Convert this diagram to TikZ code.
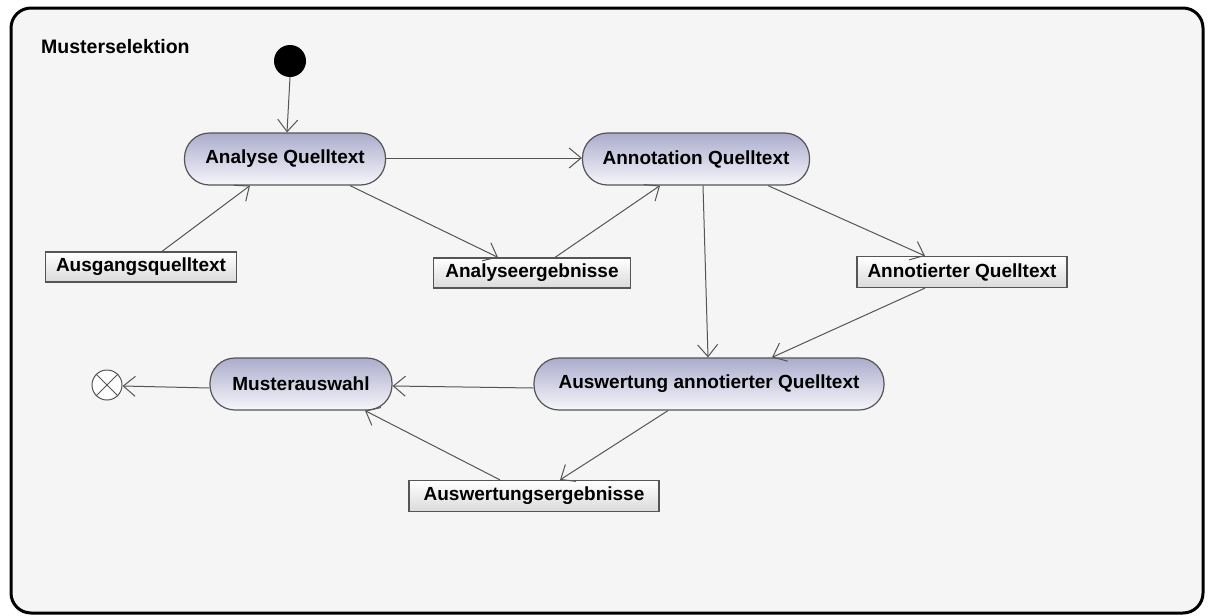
\documentclass[tikz,border=0pt]{standalone}
\usepackage{fontspec}
\setmainfont{Liberation Sans}
\usetikzlibrary{arrows.meta}
\definecolor{framebg}{RGB}{245,245,245}
\definecolor{actiontop}{RGB}{172,172,204}
\definecolor{actionbot}{RGB}{246,246,252}
\definecolor{objbot}{RGB}{218,218,218}
\definecolor{edgegray}{RGB}{85,85,85}
\tikzset{
  action/.style={draw=edgegray, line width=1.2pt, rounded corners=25pt,
    top color=actiontop, bottom color=actionbot, minimum height=52pt,
    inner sep=0pt, font=\fontsize{19}{22}\selectfont\bfseries},
  objbox/.style={draw=edgegray, line width=1.2pt, top color=white,
    bottom color=objbot, minimum height=30pt, inner sep=0pt,
    font=\fontsize{19}{22}\selectfont\bfseries},
  flow/.style={draw=edgegray, line width=1pt,
    -{Straight Barb[length=12pt,width=20pt,line width=1pt]}}
}
\begin{document}
\begin{tikzpicture}[x=1pt,y=-1pt]
\useasboundingbox (0,0) rectangle (1208,616);
% activity frame
\draw[line width=3pt, fill=framebg, rounded corners=20pt] (11,8) rectangle (1203,613);
\node[anchor=west, inner sep=0pt, font=\fontsize{19.5}{22}\selectfont\bfseries] (title) at (41,47) {Musterselektion};

% initial and final nodes
\node[circle, fill=black, minimum size=32pt, inner sep=0pt] (init) at (290,61) {};
\node[circle, draw=edgegray, fill=white, line width=1pt, minimum size=30pt, inner sep=0pt] (final) at (107,385) {};
\draw[edgegray, line width=1pt] (final.north west) -- (final.south east)
  (final.north east) -- (final.south west);

% actions
\node[action, minimum width=201pt] (analyse) at (285,159) {Analyse Quelltext};
\node[action, minimum width=227pt] (annot) at (696,159) {Annotation Quelltext};
\node[action, minimum width=350pt] (ausw) at (709,384) {Auswertung annotierter Quelltext};
\node[action, minimum width=182pt] (muster) at (301,384) {Musterauswahl};

% object nodes
\node[objbox, minimum width=191pt] (ausgang) at (141,267) {Ausgangsquelltext};
\node[objbox, minimum width=197pt] (aerg) at (532,273) {Analyseergebnisse};
\node[objbox, minimum width=210pt, minimum height=31pt] (aq) at (962,272) {Annotierter Quelltext};
\node[objbox, minimum width=250pt, minimum height=31pt] (awerg) at (534,496) {Auswertungsergebnisse};

% flows
\draw[flow] (init.south) -- ([xshift=2pt]analyse.north);
\draw[flow] ([xshift=21pt]ausgang.north) -- ([xshift=-35pt]analyse.south);
\draw[flow] ([yshift=1pt]analyse.east) -- ([yshift=1pt]annot.west);
\draw[flow] ([xshift=65pt]analyse.south) -- ([xshift=-34pt]aerg.north);
\draw[flow] ([xshift=23pt]aerg.north) -- ([xshift=-36pt]annot.south);
\draw[flow] ([xshift=7pt]annot.south) -- ([xshift=-1pt]ausw.north);
\draw[flow] ([xshift=72pt]annot.south) -- ([xshift=-37pt]aq.north);
\draw[flow] ([xshift=-37pt]aq.south) -- ([xshift=63pt]ausw.north);
\draw[flow] ([yshift=-4pt]ausw.west) -- ([yshift=-2pt]muster.east);
\draw[flow] ([xshift=-41pt]ausw.south) -- ([xshift=26pt]awerg.north);
\draw[flow] ([xshift=-34pt]awerg.north) -- ([xshift=64pt]muster.south);
\draw[flow] ([yshift=-4pt]muster.west) -- ([yshift=-1pt]final.east);
\end{tikzpicture}
\end{document}
